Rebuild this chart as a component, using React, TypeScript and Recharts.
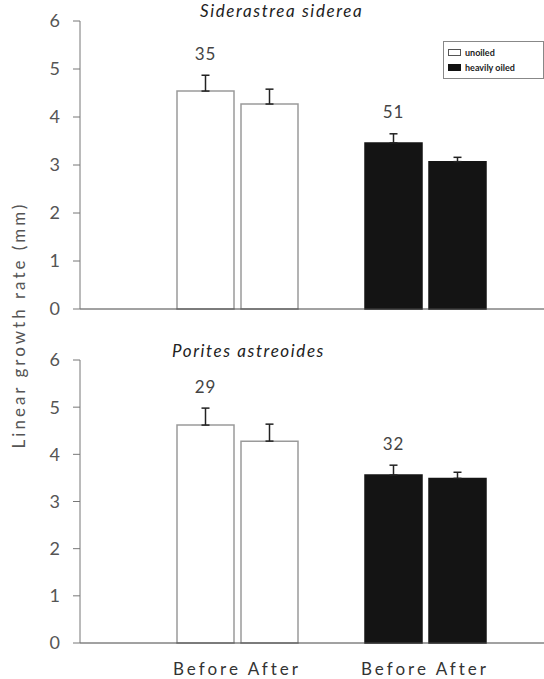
import React from 'react';
import { BarChart, Bar, XAxis, YAxis, ErrorBar, Cell, LabelList } from 'recharts';

const categories = ['unoiled', 'heavily oiled'];
const yTicks = [0, 1, 2, 3, 4, 5, 6];

// Siderastrea siderea
const sidBefore = [4.54, 3.46];
const sidAfter = [4.27, 3.07];
const sidBeforeErr = [0.33, 0.19];
const sidAfterErr = [0.31, 0.09];
const sidN = [35, 51];

// Porites astreoides
const porBefore = [4.62, 3.56];
const porAfter = [4.28, 3.49];
const porBeforeErr = [0.36, 0.21];
const porAfterErr = [0.36, 0.13];
const porN = [29, 32];

const fills = ['#ffffff', '#141414'];
const strokes = ['#9a9a9a', '#141414'];

const FONT = 'Lato, "DejaVu Sans", sans-serif';

const buildRows = (before: number[], after: number[], bErr: number[], aErr: number[], n: number[]) =>
  categories.map((c, i) => ({
    cat: c,
    before: before[i],
    after: after[i],
    beforeErr: [0, bErr[i]],
    afterErr: [0, aErr[i]],
    n: n[i],
  }));

const LegendBox = () => (
  <div style={{ position: 'absolute', left: 443, top: 41, width: 101, boxSizing: 'border-box', border: '1px solid #888',
    padding: '3px 4px', background: '#fff', fontFamily: FONT, fontSize: 9, fontWeight: 700, color: '#222', lineHeight: '15px' }}>
    <div style={{ display: 'flex', alignItems: 'center' }}>
      <span style={{ display: 'inline-block', width: 11, height: 5, border: '1px solid #555', marginRight: 4 }} />{categories[0]}
    </div>
    <div style={{ display: 'flex', alignItems: 'center' }}>
      <span style={{ display: 'inline-block', width: 11, height: 5, border: '1px solid #111', background: '#111', marginRight: 4 }} />{categories[1]}
    </div>
  </div>
);

interface PanelProps {
  rows: ReturnType<typeof buildRows>;
  height: number;
  marginTop: number;
  xHeight: number;
  showX: boolean;
}

const Panel: React.FC<PanelProps> = ({ rows, height, marginTop, xHeight, showX }) => {
  const plotH = height - marginTop - xHeight;
  const unitPx = plotH / 6;

  const nLabel = (props: any) => {
    const { x, y, width, index } = props;
    const errPx = rows[index].beforeErr[1] * unitPx;
    return (
      <text x={x + width / 2} y={y - errPx - 22} textAnchor="middle" dominantBaseline="central"
        fontFamily={FONT} fontSize={17} fill="#444" letterSpacing={1}>
        {rows[index].n}
      </text>
    );
  };

  const xTick = (props: any) => {
    const { x, y } = props;
    return (
      <text x={x} y={y + 24} textAnchor="middle" fontFamily={FONT} fontSize={17} fill="#333" letterSpacing={3}>
        Before After
      </text>
    );
  };

  return (
    <BarChart width={544} height={height} data={rows} margin={{ top: marginTop, right: 0, bottom: 0, left: 0 }}
      barGap={7} barSize={57}>
      <XAxis dataKey="cat" height={xHeight} padding={{ left: 63, right: 25 }}
        axisLine={{ stroke: '#444' }} tickLine={false} tick={showX ? xTick : false} />
      <YAxis domain={[0, 6]} ticks={yTicks} width={80} tickSize={7} tickMargin={13}
        axisLine={{ stroke: '#777' }} tickLine={{ stroke: '#777' }}
        tick={{ fontFamily: FONT, fontSize: 18, fill: '#555' }} />
      <Bar dataKey="before" isAnimationActive={false} strokeWidth={1.5}>
        {rows.map((r, i) => <Cell key={r.cat} fill={fills[i]} stroke={strokes[i]} />)}
        <ErrorBar dataKey="beforeErr" direction="y" width={4} stroke="#222" strokeWidth={1.5} />
        <LabelList dataKey="n" content={nLabel} />
      </Bar>
      <Bar dataKey="after" isAnimationActive={false} strokeWidth={1.5}>
        {rows.map((r, i) => <Cell key={r.cat} fill={fills[i]} stroke={strokes[i]} />)}
        <ErrorBar dataKey="afterErr" direction="y" width={4} stroke="#222" strokeWidth={1.5} />
      </Bar>
    </BarChart>
  );
};

export default function App() {
  const topRows = buildRows(sidBefore, sidAfter, sidBeforeErr, sidAfterErr, sidN);
  const botRows = buildRows(porBefore, porAfter, porBeforeErr, porAfterErr, porN);
  const title: React.CSSProperties = { position: 'absolute', fontFamily: FONT, fontStyle: 'italic', fontSize: 17, color: '#222',
    whiteSpace: 'nowrap', lineHeight: '20px', letterSpacing: 1.6 };
  return (
    <div style={{ position: 'absolute', left: 0, top: 0, width: 544, height: 679, background: '#fff' }}>
      <div style={{ position: 'absolute', left: 0, top: 0 }}>
        <Panel rows={topRows} height={320} marginTop={21} xHeight={11} showX={false} />
      </div>
      <div style={{ position: 'absolute', left: 0, top: 330 }}>
        <Panel rows={botRows} height={349} marginTop={30} xHeight={36} showX />
      </div>
      <LegendBox />
      <div style={{ ...title, left: 200, top: 1 }}>Siderastrea siderea</div>
      <div style={{ ...title, left: 172, top: 341 }}>Porites astreoides</div>
      <div style={{ position: 'absolute', left: 18, top: 325, transform: 'translate(-50%, -50%) rotate(-90deg)',
        fontFamily: FONT, fontSize: 17, color: '#555', whiteSpace: 'nowrap', letterSpacing: 3 }}>
        Linear growth rate (mm)
      </div>
    </div>
  );
}
